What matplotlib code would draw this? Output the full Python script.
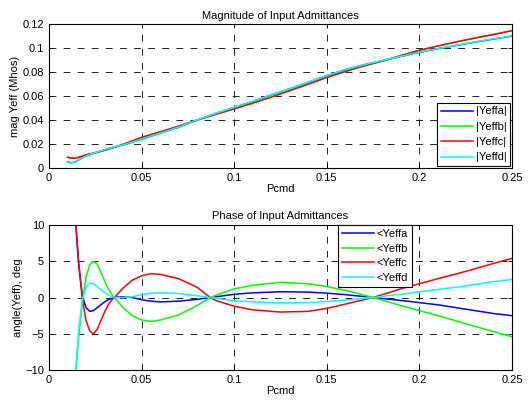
import matplotlib.pyplot as plt

plt.rcParams['font.family'] = ['Liberation Sans', 'DejaVu Sans']

# --- magnitude data ---
x_mag = [0.010, 0.012, 0.014, 0.016, 0.020, 0.025, 0.030, 0.035, 0.040, 0.050,
         0.060, 0.070, 0.080, 0.090, 0.100, 0.110, 0.120, 0.130, 0.140, 0.150,
         0.160, 0.170, 0.180, 0.190, 0.200, 0.210, 0.220, 0.230, 0.240, 0.250]
mag_a = [0.0052, 0.0043, 0.0050, 0.0068, 0.0100, 0.0128, 0.0152, 0.0175, 0.0192, 0.0240,
         0.0290, 0.0340, 0.0400, 0.0455, 0.0505, 0.0555, 0.0610, 0.0660, 0.0715, 0.0770,
         0.0820, 0.0860, 0.0895, 0.0930, 0.0965, 0.0995, 0.1022, 0.1050, 0.1075, 0.1100]
mag_b = [0.0090, 0.0083, 0.0082, 0.0090, 0.0110, 0.0128, 0.0148, 0.0172, 0.0198, 0.0256,
         0.0302, 0.0350, 0.0400, 0.0448, 0.0494, 0.0542, 0.0592, 0.0646, 0.0700, 0.0756,
         0.0806, 0.0852, 0.0892, 0.0938, 0.0982, 0.1018, 0.1052, 0.1084, 0.1114, 0.1145]
mag_c = [0.0090, 0.0082, 0.0081, 0.0089, 0.0110, 0.0127, 0.0147, 0.0171, 0.0197, 0.0255,
         0.0301, 0.0349, 0.0400, 0.0447, 0.0493, 0.0541, 0.0591, 0.0645, 0.0699, 0.0755,
         0.0805, 0.0851, 0.0891, 0.0937, 0.0981, 0.1017, 0.1051, 0.1083, 0.1113, 0.1145]
mag_d = [0.0050, 0.0042, 0.0049, 0.0067, 0.0100, 0.0129, 0.0153, 0.0176, 0.0193, 0.0241,
         0.0291, 0.0341, 0.0401, 0.0456, 0.0506, 0.0556, 0.0611, 0.0661, 0.0716, 0.0771,
         0.0821, 0.0861, 0.0896, 0.0931, 0.0966, 0.0996, 0.1023, 0.1051, 0.1076, 0.1101]

# --- phase data ---
x_ph = [0.0145, 0.016, 0.018, 0.020, 0.022, 0.024, 0.026, 0.028, 0.030, 0.032,
        0.034, 0.036, 0.040, 0.045, 0.050, 0.055, 0.060, 0.070, 0.080, 0.087,
        0.090, 0.100, 0.110, 0.125, 0.140, 0.150, 0.160, 0.175, 0.190, 0.200,
        0.210, 0.225, 0.240, 0.250]
ph_a = [10.0, 4.5, 0.2, -1.4, -1.9, -1.8, -1.4, -1.0, -0.6, -0.3,
        -0.1, 0.05, 0.1, 0.0, -0.3, -0.5, -0.6, -0.5, -0.25, 0.0,
        0.1, 0.45, 0.65, 0.8, 0.75, 0.6, 0.4, 0.0, -0.4, -0.7,
        -1.0, -1.6, -2.2, -2.5]
ph_b = [-10.0, -5.5, -0.5, 2.8, 4.5, 5.0, 4.6, 3.5, 2.3, 1.2,
        0.4, -0.2, -1.4, -2.5, -3.1, -3.3, -3.1, -2.4, -1.1, 0.0,
        0.3, 1.2, 1.7, 2.1, 1.9, 1.5, 1.0, 0.0, -1.1, -1.8,
        -2.5, -3.6, -4.7, -5.4]
ph_c = [10.0, 5.0, -0.2, -3.2, -4.6, -5.0, -4.4, -3.2, -2.0, -1.0,
        -0.3, 0.2, 1.3, 2.4, 3.0, 3.3, 3.2, 2.6, 1.4, 0.0,
        -0.4, -1.2, -1.7, -2.0, -1.9, -1.5, -0.9, 0.0, 1.2, 1.9,
        2.6, 3.6, 4.7, 5.4]
ph_d = [-10.0, -4.5, -0.3, 1.4, 2.0, 1.9, 1.5, 1.1, 0.7, 0.35,
        0.1, 0.0, 0.0, 0.1, 0.4, 0.6, 0.65, 0.55, 0.25, 0.0,
        -0.1, -0.45, -0.6, -0.75, -0.7, -0.55, -0.35, 0.0, 0.45, 0.8,
        1.1, 1.6, 2.2, 2.5]

colors = ['#0000ff', '#00ff00', '#ff0000', '#00ffff']
mag_labels = ['|Yeffa|', '|Yeffb|', '|Yeffc|', '|Yeffd|']
ph_labels = ['<Yeffa', '<Yeffb', '<Yeffc', '<Yeffd']


def style_axes(ax):
    ax.grid(True, color='#222222', linestyle=(0, (7.0, 7.5)), linewidth=0.7)
    ax.tick_params(direction='in', length=3, labelsize=8, top=True, right=True, width=0.6)
    for s in ax.spines.values():
        s.set_linewidth(0.8)
    ax.set_xlim(0, 0.25)
    ax.set_xticks([0, 0.05, 0.1, 0.15, 0.2, 0.25])
    ax.set_xticklabels(['0', '0.05', '0.1', '0.15', '0.2', '0.25'])
    ax.set_xlabel('Pcmd', fontsize=8, labelpad=1)


fig = plt.figure(figsize=(5.30, 4.01), dpi=100)
ax1 = fig.add_axes([0.0925, 0.581, 0.8735, 0.359])
ax2 = fig.add_axes([0.0925, 0.077, 0.8735, 0.362])

for y, c, lab in zip([mag_a, mag_b, mag_c, mag_d], colors, mag_labels):
    ax1.plot(x_mag, y, color=c, linewidth=1.1, label=lab)
style_axes(ax1)
ax1.set_ylim(0, 0.12)
ax1.set_yticks([0, 0.02, 0.04, 0.06, 0.08, 0.1, 0.12])
ax1.set_yticklabels(['0', '0.02', '0.04', '0.06', '0.08', '0.1', '0.12'])
ax1.set_ylabel('mag Yeff (Mhos)', fontsize=8, labelpad=2)
ax1.set_title('Magnitude of Input Admittances', fontsize=8, pad=4)
leg1 = ax1.legend(loc='lower right', fontsize=8, fancybox=False, framealpha=1,
                  edgecolor='black', borderpad=0.35, labelspacing=0.48,
                  handlelength=2.9, handletextpad=0.2, borderaxespad=0.15)
leg1.get_frame().set_linewidth(0.8)

for y, c, lab in zip([ph_a, ph_b, ph_c, ph_d], colors, ph_labels):
    ax2.plot(x_ph, y, color=c, linewidth=1.1, label=lab)
style_axes(ax2)
ax2.set_ylim(-10, 10)
ax2.set_yticks([-10, -5, 0, 5, 10])
ax2.set_ylabel('angle(Yeff), deg', fontsize=8, labelpad=2)
ax2.set_title('Phase of Input Admittances', fontsize=8, pad=4)
leg2 = ax2.legend(loc='upper left', bbox_to_anchor=(0.624, 1.0), fontsize=8,
                  fancybox=False, framealpha=1, edgecolor='black', borderpad=0.35,
                  labelspacing=0.42, handlelength=2.9, handletextpad=0.2, borderaxespad=0)
leg2.get_frame().set_linewidth(0.8)

fig.savefig('out.png', dpi=100)
